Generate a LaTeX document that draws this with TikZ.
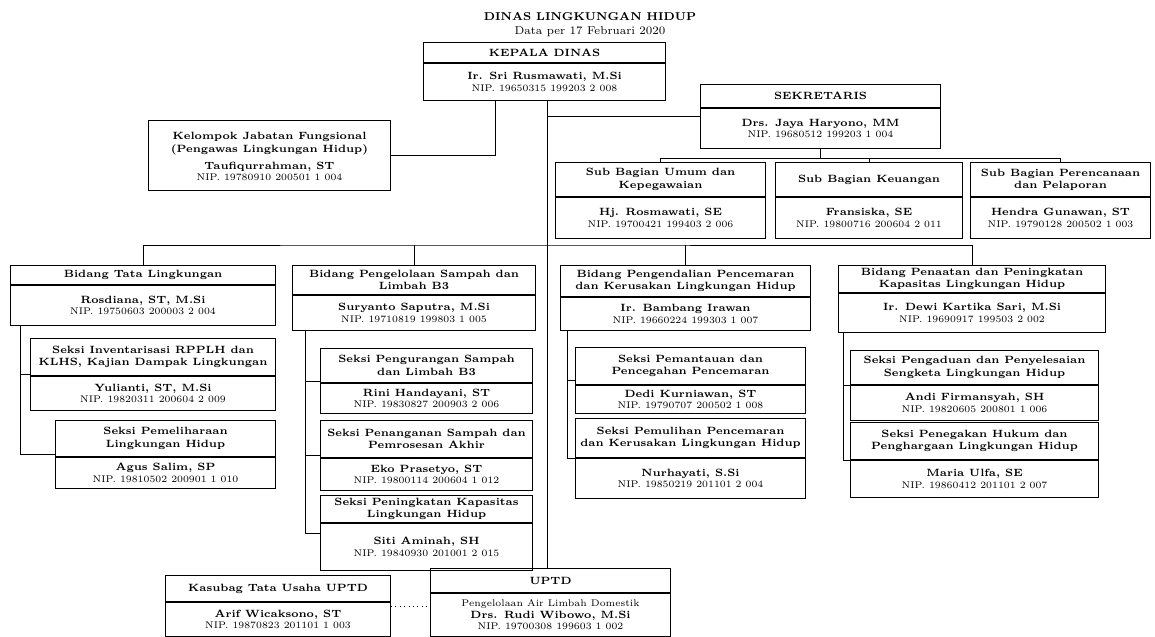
\documentclass[tikz,border=0pt]{standalone}
\usepackage{tikz}
\usetikzlibrary{calc}
\tikzset{
  unit/.style={draw, line width=.6pt, inner sep=0pt},
  divline/.style={line width=.6pt},
  link/.style={line width=.5pt},
  ttl/.style={font=\fontsize{6}{7}\selectfont\bfseries, align=center, inner sep=0pt},
  bdy/.style={font=\fontsize{5.5}{6.5}\selectfont, align=center, inner sep=0pt},
}
\newcommand{\nm}[1]{{\bfseries\fontsize{6}{7}\selectfont #1}}
% name, x, y, width, height, header height, title, body
\newcommand{\orgbox}[8]{%
  \node[unit, minimum width=#4*0.02cm, minimum height=#5*0.02cm, anchor=north west] (#1) at (#2,#3) {};
  \draw[divline] ([yshift=-#6*0.02cm]#1.north west) -- ([yshift=-#6*0.02cm]#1.north east);
  \node[ttl] (#1-t) at ($(#1.north)!0.5!([yshift=-#6*0.02cm]#1.north)$) {#7};
  \node[bdy] (#1-b) at ($([yshift=-#6*0.02cm]#1.north)!0.5!(#1.south)$) {#8};
}

\begin{document}
\begin{tikzpicture}[x=0.02cm,y=-0.02cm]
  \useasboundingbox (0,0) rectangle (1155,636);
  \node[font=\fontsize{6.5}{7.5}\selectfont\bfseries] (judul) at (590,17) {DINAS LINGKUNGAN HIDUP};
  \node[font=\fontsize{6.5}{7.5}\selectfont] (tgl) at (590,32) {Data per 17 Februari 2020};

  \orgbox{kadis}{423}{42}{242}{58}{21}{KEPALA DINAS}{\nm{Ir. Sri Rusmawati, M.Si}\\NIP. 19650315 199203 2 008}
  \orgbox{sekr}{700}{84}{240}{64}{24}{SEKRETARIS}{\nm{Drs. Jaya Haryono, MM}\\NIP. 19680512 199203 1 004}
  \node[unit, minimum width=242*0.02cm, minimum height=70*0.02cm, anchor=north west] (jf) at (148,120) {};
  \node[ttl] (jf-t) at ($(jf.center)+(0,-12)$) {Kelompok Jabatan Fungsional\\(Pengawas Lingkungan Hidup)};
  \node[bdy] (jf-b) at ($(jf.center)+(0,16)$) {\nm{Taufiqurrahman, ST}\\NIP. 19780910 200501 1 004};

  \orgbox{sub1}{555}{162}{210}{76}{35}{Sub Bagian Umum dan\\Kepegawaian}{\nm{Hj. Rosmawati, SE}\\NIP. 19700421 199403 2 006}
  \orgbox{sub2}{775}{162}{187}{76}{35}{Sub Bagian Keuangan}{\nm{Fransiska, SE}\\NIP. 19800716 200604 2 011}
  \orgbox{sub3}{970}{162}{180}{76}{35}{Sub Bagian Perencanaan\\dan Pelaporan}{\nm{Hendra Gunawan, ST}\\NIP. 19790128 200502 1 003}

  \orgbox{bid1}{10}{265}{265}{60}{20}{Bidang Tata Lingkungan}{\nm{Rosdiana, ST, M.Si}\\NIP. 19750603 200003 2 004}
  \orgbox{bid2}{292}{265}{243}{65}{30}{Bidang Pengelolaan Sampah dan\\Limbah B3}{\nm{Suryanto Saputra, M.Si}\\NIP. 19710819 199803 1 005}
  \orgbox{bid3}{560}{265}{250}{65}{32}{Bidang Pengendalian Pencemaran\\dan Kerusakan Lingkungan Hidup}{\nm{Ir. Bambang Irawan}\\NIP. 19660224 199303 1 007}
  \orgbox{bid4}{838}{265}{267}{67}{28}{Bidang Penaatan dan Peningkatan\\Kapasitas Lingkungan Hidup}{\nm{Ir. Dewi Kartika Sari, M.Si}\\NIP. 19690917 199503 2 002}

  \orgbox{s11}{30}{338}{245}{72}{38}{Seksi Inventarisasi RPPLH dan\\KLHS, Kajian Dampak Lingkungan}{\nm{Yulianti, ST, M.Si}\\NIP. 19820311 200604 2 009}
  \orgbox{s12}{55}{420}{220}{68}{37}{Seksi Pemeliharaan\\Lingkungan Hidup}{\nm{Agus Salim, SP}\\NIP. 19810502 200901 1 010}
  \orgbox{s21}{320}{348}{212}{65}{35}{Seksi Pengurangan Sampah\\dan Limbah B3}{\nm{Rini Handayani, ST}\\NIP. 19830827 200903 2 006}
  \orgbox{s22}{320}{420}{212}{70}{38}{Seksi Penanganan Sampah dan\\Pemrosesan Akhir}{\nm{Eko Prasetyo, ST}\\NIP. 19800114 200604 1 012}
  \orgbox{s23}{320}{495}{212}{75}{28}{Seksi Peningkatan Kapasitas\\Lingkungan Hidup}{\nm{Siti Aminah, SH}\\NIP. 19840930 201001 2 015}
  \orgbox{s31}{575}{347}{230}{66}{38}{Seksi Pemantauan dan\\Pencegahan Pencemaran}{\nm{Dedi Kurniawan, ST}\\NIP. 19790707 200502 1 008}
  \orgbox{s32}{575}{418}{230}{80}{40}{Seksi Pemulihan Pencemaran\\dan Kerusakan Lingkungan Hidup}{\nm{Nurhayati, S.Si}\\NIP. 19850219 201101 2 004}
  \orgbox{s41}{850}{350}{248}{70}{35}{Seksi Pengaduan dan Penyelesaian\\Sengketa Lingkungan Hidup}{\nm{Andi Firmansyah, SH}\\NIP. 19820605 200801 1 006}
  \orgbox{s42}{850}{422}{248}{75}{38}{Seksi Penegakan Hukum dan\\Penghargaan Lingkungan Hidup}{\nm{Maria Ulfa, SE}\\NIP. 19860412 201101 2 007}

  \orgbox{kab}{165}{575}{225}{61}{27}{Kasubag Tata Usaha UPTD}{\nm{Arif Wicaksono, ST}\\NIP. 19870823 201101 1 003}
  \orgbox{uptd}{430}{568}{240}{68}{25}{UPTD}{Pengelolaan Air Limbah Domestik\\\nm{Drs. Rudi Wibowo, M.Si}\\NIP. 19700308 199603 1 002}

  \coordinate (spx) at (547,0);
  \coordinate (sbus) at ($(sekr.south)+(0,9)$);
  \coordinate (bbus) at (0,245);
  \draw[link] (kadis.south -| spx) -- (uptd.north -| spx);
  \draw[link] (sekr.west) -- (sekr.west -| spx);
  \draw[link] (jf.east) -| ($(kadis.south west)!0.3!(kadis.south east)$);
  \draw[link] (sekr.south) -- (sbus);
  \draw[link] (sub1.north) |- (sbus) -| (sub3.north);
  \draw[link] (sub2.north) -- (sub2.north |- sbus);
  \draw[link] (bid1.north) |- (bbus -| bid2.north) -| (bid4.north);
  \draw[link] (bid2.north) -- (bid2.north |- bbus);
  \draw[link] (bid3.north) -- (bid3.north |- bbus);
  \draw[link] ([xshift=10*0.02cm]bid1.south west) |- (s11.west);
  \draw[link] ([xshift=10*0.02cm]bid1.south west) |- (s12.west);
  \draw[link] ([xshift=13*0.02cm]bid2.south west) |- (s21.west);
  \draw[link] ([xshift=13*0.02cm]bid2.south west) |- (s22.west);
  \draw[link] ([xshift=13*0.02cm]bid2.south west) |- (s23.west);
  \draw[link] ([xshift=7*0.02cm]bid3.south west) |- (s31.west);
  \draw[link] ([xshift=7*0.02cm]bid3.south west) |- (s32.west);
  \draw[link] ([xshift=5*0.02cm]bid4.south west) |- (s41.west);
  \draw[link] ([xshift=5*0.02cm]bid4.south west) |- (s42.west);
  \draw[link, dotted] (kab.east) -- (kab.east -| uptd.west);
\end{tikzpicture}
\end{document}
